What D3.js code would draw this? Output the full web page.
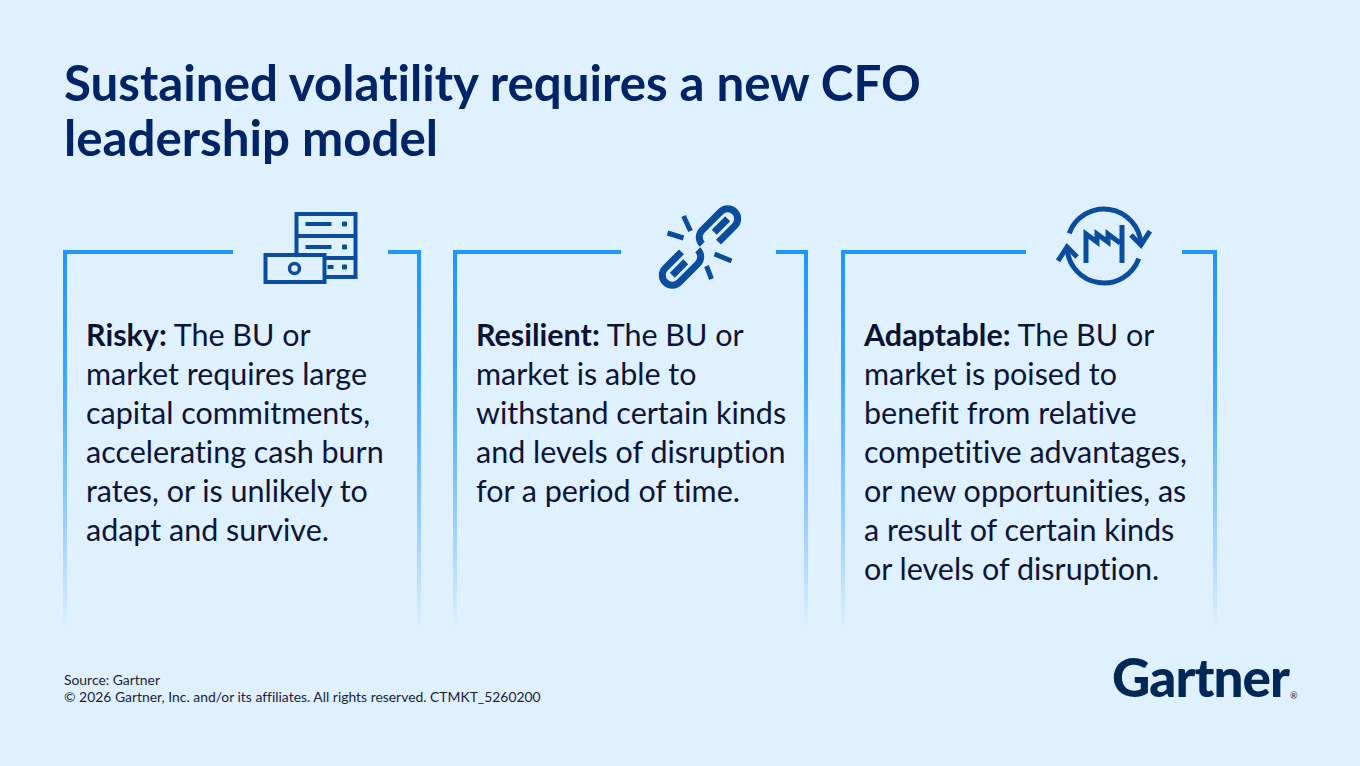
<!DOCTYPE html>
<html>
<head>
<meta charset="utf-8">
<script src="https://cdn.jsdelivr.net/npm/d3@7"></script>
<style>
  html, body { margin: 0; padding: 0; background: #dff0fe; }
  svg { display: block; }
  text { font-variant-ligatures: none; font-feature-settings: "liga" 0; }
</style>
</head>
<body>
<svg id="chart" width="1360" height="766"></svg>
<script>
// ---------- data ----------
const titleLines = ["Sustained volatility requires a new CFO", "leadership model"];
const categories = ["Risky:", "Resilient:", "Adaptable:"];
const iconKinds = ["server", "chain", "cycle"];
const descriptions = [
  [" The BU or", "market requires large", "capital commitments,", "accelerating cash burn", "rates, or is unlikely to", "adapt and survive."],
  [" The BU or", "market is able to", "withstand certain kinds", "and levels of disruption", "for a period of time."],
  [" The BU or", "market is poised to", "benefit from relative", "competitive advantages,", "or new opportunities, as", "a result of certain kinds", "or levels of disruption."]
];
const footerLines = ["Source: Gartner", "© 2026 Gartner, Inc. and/or its affiliates. All rights reserved. CTMKT_5260200"];
const logoText = "Gartner";

// ---------- layout ----------
const W = 1360, H = 766;
const BG = "#dff0fe";
const LINE = "#2196ff";
const boxes = [
  { left: 65, right: 419, gapL: 233, gapR: 388 },
  { left: 455, right: 806, gapL: 621, gapR: 776 },
  { left: 843, right: 1215, gapL: 1026, gapR: 1182 }
];
const boxTop = 252, boxBottom = 630, iconY = 246;

const svg = d3.select("#chart");
const defs = svg.append("defs");

svg.append("rect").attr("width", W).attr("height", H).attr("fill", BG);

// fade gradient for verticals
const fade = defs.append("linearGradient").attr("id", "fade")
  .attr("gradientUnits", "userSpaceOnUse").attr("x1", 0).attr("x2", 0)
  .attr("y1", boxTop).attr("y2", boxBottom);
fade.append("stop").attr("offset", "0").attr("stop-color", LINE).attr("stop-opacity", 1);
fade.append("stop").attr("offset", "0.33").attr("stop-color", LINE).attr("stop-opacity", 0.85);
fade.append("stop").attr("offset", "1").attr("stop-color", LINE).attr("stop-opacity", 0);

const ig = defs.append("linearGradient").attr("id", "iconGrad")
  .attr("gradientUnits", "userSpaceOnUse").attr("x1", 0).attr("x2", 0)
  .attr("y1", 205).attr("y2", 290);
ig.append("stop").attr("offset", "0").attr("stop-color", "#0a4d9f");
ig.append("stop").attr("offset", "1").attr("stop-color", "#022565");

// fit helper
function fit(sel, target) {
  const base = parseFloat(sel.attr("font-size"));
  const w = sel.node().getComputedTextLength();
  sel.attr("font-size", (base * target / w).toFixed(2));
  return base * target / w;
}

// ---------- title ----------
const titleY = d3.scaleLinear().domain([0, 1]).range([101, 156]);
const tt = svg.selectAll("text.title").data(titleLines).join("text")
  .attr("class", "title")
  .attr("x", 64).attr("y", (d, i) => titleY(i))
  .attr("font-family", "Lato, sans-serif").attr("font-weight", 700)
  .attr("font-size", 43).attr("fill", "#002466")
  .text(d => d);
const tfs = fit(d3.select(tt.nodes()[0]), 857);
tt.attr("font-size", tfs.toFixed(2));

// ---------- boxes ----------
const g = svg.selectAll("g.box").data(boxes).join("g").attr("class", "box");
const sw = 4;
g.append("path")
  .attr("d", b => `M${b.left},${boxTop} H${b.gapL} M${b.gapR},${boxTop} H${b.right}`)
  .attr("stroke", LINE).attr("stroke-width", sw).attr("fill", "none");
g.append("rect")
  .attr("x", b => b.left - sw / 2).attr("y", boxTop - sw / 2)
  .attr("width", sw).attr("height", boxBottom - boxTop)
  .attr("fill", "url(#fade)");
g.append("rect")
  .attr("x", b => b.right - sw / 2).attr("y", boxTop - sw / 2)
  .attr("width", sw).attr("height", boxBottom - boxTop)
  .attr("fill", "url(#fade)");

// ---------- body text ----------
const lineY = d3.scaleLinear().domain([0, 1]).range([346, 385]);
const probe = svg.append("text").attr("font-family", "Lato, sans-serif")
  .attr("font-size", 26).text("competitive advantages,");
const bodyFs = fit(probe, 323);
probe.remove();

boxes.forEach((b, bi) => {
  const tx = b.left + 21;
  const t = svg.append("text")
    .attr("font-family", "Lato, sans-serif")
    .attr("font-size", bodyFs.toFixed(2))
    .attr("fill", "#0c1538");
  descriptions[bi].forEach((line, li) => {
    if (li === 0) {
      t.append("tspan").attr("x", tx).attr("y", lineY(0))
        .attr("font-weight", 700).attr("fill", "#0a1236").text(categories[bi]);
      t.append("tspan").text(line);
    } else {
      t.append("tspan").attr("x", tx).attr("y", lineY(li)).text(line);
    }
  });
});

// ---------- icons ----------
function drawIcon(kind, cx, cy) {
  const ic = svg.append("g").attr("transform", `translate(${cx},${cy})`);
  const S = "url(#iconGrad)";
  if (kind === "server") {
    ic.append("rect").attr("x", -14).attr("y", -32).attr("width", 59).attr("height", 63)
      .attr("fill", "none").attr("stroke", S).attr("stroke-width", 4);
    ic.append("path").attr("d", "M-14,-10 H45 M-14,12 H45")
      .attr("stroke", S).attr("stroke-width", 4);
    ic.append("path").attr("d", "M-5,-22 H21 M-5,1 H21 M17,21 H23")
      .attr("stroke", S).attr("stroke-width", 4);
    ic.append("path").attr("d", "M32,-24 h4 v4 h-4z M32,-1 h4 v4 h-4z M32,19 h4 v4 h-4z")
      .attr("fill", S).attr("stroke", S).attr("stroke-width", 1);
    ic.append("rect").attr("x", -45).attr("y", 9).attr("width", 59).attr("height", 27)
      .attr("fill", BG).attr("stroke", S).attr("stroke-width", 4);
    ic.append("circle").attr("cx", -16).attr("cy", 22.5).attr("r", 5)
      .attr("fill", "none").attr("stroke", S).attr("stroke-width", 3.5);
  } else if (kind === "chain") {
    const link = "M-10,10 H13 A10,10 0 0 0 13,-10 H-13 A10,10 0 0 0 -23,0 M-6,0 H13";
    ic.append("path").attr("d", link)
      .attr("transform", "translate(20,-18) rotate(-45)")
      .attr("fill", "none").attr("stroke", S).attr("stroke-width", 7).attr("stroke-linecap", "butt");
    ic.append("path").attr("d", link)
      .attr("transform", "translate(-17,20) rotate(135)")
      .attr("fill", "none").attr("stroke", S).attr("stroke-width", 7).attr("stroke-linecap", "butt");
    ic.append("path")
      .attr("d", "M-15,-30 L-8,-15 M-31,-13 L-15,-8 M16,8 L33,15 M8,20 L13,33")
      .attr("stroke", S).attr("stroke-width", 5);
  } else {
    const r = 37;
    const pt = a => [r * Math.cos(a * Math.PI / 180), r * Math.sin(a * Math.PI / 180)];
    const a1 = pt(200), a2 = pt(357), b1 = pt(20), b2 = pt(177);
    ic.append("path")
      .attr("d", `M${a1} A${r},${r} 0 0 1 ${a2} M${b1} A${r},${r} 0 0 1 ${b2}`)
      .attr("fill", "none").attr("stroke", S).attr("stroke-width", 5);
    ic.append("path")
      .attr("d", `M${a2[0] - 10},${a2[1] - 9} L${a2[0]},${a2[1] + 1} L${a2[0] + 9},${a2[1] - 13}` +
                 ` M${b2[0] + 10},${b2[1] + 9} L${b2[0]},${b2[1] - 1} L${b2[0] - 9},${b2[1] + 13}`)
      .attr("fill", "none").attr("stroke", S).attr("stroke-width", 5).attr("stroke-linejoin", "miter");
    ic.append("path")
      .attr("d", "M-18,17 V-12 L-7,-4 V-12 L4,-4 V-12 L16,-3 M18,-21 V17")
      .attr("fill", "none").attr("stroke", S).attr("stroke-width", 5).attr("stroke-linejoin", "miter");
  }
}
boxes.forEach((b, i) => drawIcon(iconKinds[i], (b.gapL + b.gapR) / 2, iconY));

// ---------- footer ----------
const footY = d3.scaleLinear().domain([0, 1]).range([685, 702]);
const ft = svg.selectAll("text.foot").data(footerLines).join("text")
  .attr("class", "foot")
  .attr("x", 64).attr("y", (d, i) => footY(i))
  .attr("font-family", "Lato, sans-serif").attr("font-size", 13)
  .attr("fill", "#1a1f3a").text(d => d);
const ffs = fit(d3.select(ft.nodes()[1]), 477);
ft.attr("font-size", ffs.toFixed(2));

// ---------- logo ----------
const logo = svg.append("text").attr("x", 1112).attr("y", 697)
  .attr("font-family", "Lato, sans-serif").attr("font-weight", 900)
  .attr("font-size", 47).attr("fill", "#002856").attr("letter-spacing", -1)
  .text(logoText);
fit(logo, 176);
svg.append("text").attr("x", 1290).attr("y", 699)
  .attr("font-family", "Lato, sans-serif").attr("font-size", 9)
  .attr("fill", "#002856").text("®");
</script>
</body>
</html>
